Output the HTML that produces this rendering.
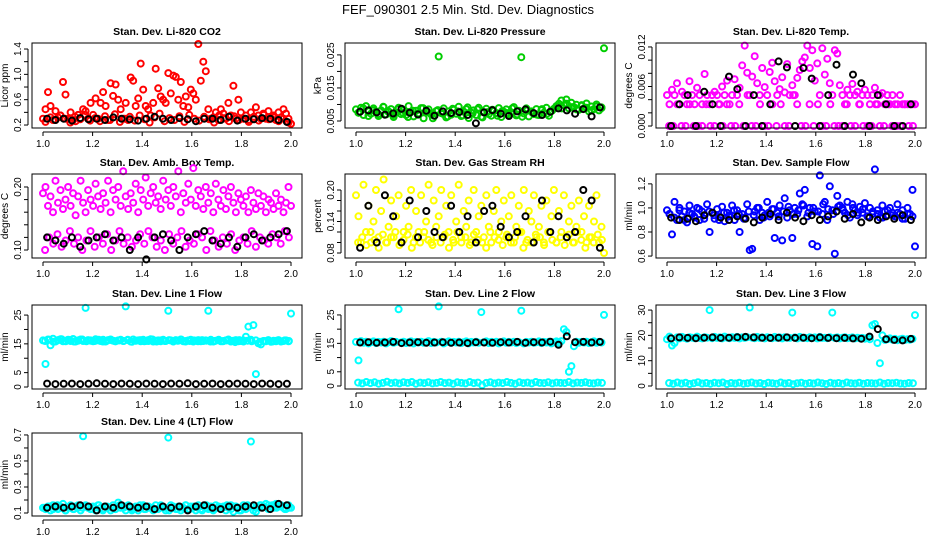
<!DOCTYPE html>
<html><head><meta charset="utf-8">
<style>
html,body{margin:0;padding:0;background:#fff;}
svg{display:block;font-family:"Liberation Sans",sans-serif;}
</style></head>
<body>
<svg id="chart" width="936" height="540" viewBox="0 0 936 540" xmlns="http://www.w3.org/2000/svg">
<text x="468" y="14" text-anchor="middle" font-size="13">FEF_090301  2.5 Min. Std. Dev. Diagnostics</text>
</svg>
<script>
const xTicks=[1.0,1.2,1.4,1.6,1.8,2.0];
const xTickLabels=["1.0","1.2","1.4","1.6","1.8","2.0"];

const co2Color=[0.3,0.45,0.72,0.5,0.28,0.42,0.32,0.35,0.88,0.68,0.3,0.4,0.28,0.26,0.36,0.3,0.45,0.42,0.3,0.55,0.36,0.62,0.3,0.55,0.72,0.5,0.28,0.86,0.66,0.84,0.6,0.45,0.3,0.55,0.28,0.95,0.9,0.5,0.62,1.17,0.76,0.5,0.45,0.35,0.55,1.09,0.78,0.65,0.6,0.55,1.02,0.7,0.98,0.96,0.6,0.88,0.5,0.65,0.48,0.76,0.7,0.6,1.48,0.9,1.2,1.05,0.45,0.3,0.32,0.4,0.28,0.45,0.38,0.3,0.55,0.35,0.82,0.3,0.6,0.4,0.3,0.35,0.28,0.4,0.3,0.48,0.35,0.3,0.38,0.3,0.42,0.3,0.35,0.28,0.4,0.32,0.45,0.38,0.3,0.22];
const co2Band=[0.25,0.32,0.28,0.35,0.3,0.24,0.33,0.29,0.36,0.27,0.31,0.26,0.34,0.28,0.37,0.25,0.3,0.33,0.27,0.35,0.29,0.24,0.32,0.38,0.26,0.31,0.28,0.34,0.25,0.36,0.3,0.27,0.33,0.29,0.24,0.35,0.31,0.26,0.34,0.28,0.3,0.25,0.33,0.27,0.36,0.29,0.32,0.26,0.3,0.24];
const co2Black=[0.3,0.28,0.3,0.27,0.31,0.29,0.3,0.28,0.32,0.3,0.29,0.27,0.3,0.33,0.3,0.28,0.31,0.29,0.26,0.3,0.3,0.28,0.33,0.27,0.3,0.29,0.31,0.3,0.28,0.25];

const presColor=[.0085,.0075,.009,.0068,.0095,.008,.0072,.0088,.0078,.0065,.0082,.0092,.007,.0079,.0086,.0062,.0075,.009,.0071,.0083,.0068,.0095,.0077,.0064,.0081,.0073,.0089,.0058,.0076,.0085,.007,.0066,.008,.0245,.0074,.0088,.0061,.0079,.0069,.0084,.0072,.0093,.0065,.0078,.0086,.0059,.0075,.0082,.0068,.009,.0063,.0077,.0087,.0071,.0066,.008,.0074,.0089,.0062,.0078,.0085,.007,.0076,.0092,.0067,.0081,.0243,.0073,.0088,.0064,.0079,.0071,.0086,.0068,.0083,.0075,.009,.0066,.008,.0087,.0095,.0102,.0112,.0098,.0115,.0088,.0105,.0092,.0099,.0084,.0096,.0088,.0103,.0079,.0094,.0086,.01,.0082,.0091,.027];
const presBand=[.0075,.0088,.0065,.0082,.0071,.0093,.0078,.0068,.0086,.0074,.0062,.0081,.0069,.0089,.0076,.0058,.0083,.0072,.0064,.0087,.0079,.0067,.0091,.0073,.0085,.0061,.0077,.0084,.0066,.008,.0074,.0088,.007,.0063,.0082,.0076,.0069,.0086,.0072,.0081,.0095,.0088,.0102,.0092,.0085,.0098,.009,.0082,.0094,.0089];
const presBlack=[.0078,.0082,.0076,.0069,.0073,.0087,.0075,.007,.0081,.0066,.0079,.0074,.0077,.0068,.0043,.0076,.0083,.0072,.0065,.0079,.0085,.0074,.0068,.0078,.0088,.0082,.0072,.0086,.0064,.0091];

const tempColor=[.0047,.0033,.0055,.0047,.0065,.0033,.0052,.0047,.0033,.0068,.0047,.0033,.0058,.0047,.0033,.0079,.0047,.0033,.0047,.0052,.0047,.0033,.006,.0047,.0069,.0033,.0047,.0071,.0047,.0058,.0092,.0122,.0081,.0047,.0075,.0106,.0065,.0047,.0088,.0059,.0047,.0082,.0096,.0068,.0047,.0056,.0074,.0051,.0094,.0047,.0062,.0047,.0073,.0085,.0098,.0104,.0122,.0088,.0115,.0069,.0095,.0047,.0118,.0078,.0102,.0065,.0047,.0115,.011,.0062,.0047,.0033,.0055,.0047,.0064,.0047,.0052,.0033,.0047,.0055,.0047,.0033,.0047,.0058,.0033,.0047,.005,.0033,.0047,.0033,.0047,.0033,.0033,.0047,.0033,.0033,.0033,.0033,.0033,.0033];
const tempBand=[0,0,.0033,0,0,.0033,0,0,0,.0033,0,0,.0033,0,.0033,0,0,.0033,0,.0047,0,0,.0033,0,0,.0033,0,.0033,0,0,.0047,.0033,0,0,.0033,0,.0033,0,0,.0033,0,0,0,.0033,0,0,.0033,0,0,0,.0033,0,0,.0033,0,0,0,.0033,0,0];
const tempBlack=[0,.0033,.0047,0,.0052,.0033,0,.0075,.0056,0,.0047,0,.0033,.0098,.0089,0,.0088,.0072,0,.0047,.0093,0,.0078,.0065,0,.0047,.0033,0,0,.0033];

const ambColor=[.19,.2,.17,.185,.16,.21,.175,.195,.165,.18,.2,.17,.19,.155,.185,.21,.175,.16,.195,.18,.17,.205,.185,.165,.19,.175,.21,.16,.195,.18,.2,.17,.225,.185,.165,.19,.175,.205,.16,.195,.18,.215,.17,.19,.2,.175,.185,.165,.21,.18,.195,.17,.2,.185,.225,.16,.19,.175,.205,.18,.23,.17,.195,.185,.165,.2,.175,.19,.16,.205,.18,.17,.195,.165,.185,.2,.175,.16,.19,.18,.17,.185,.16,.195,.175,.165,.19,.17,.185,.16,.18,.175,.165,.19,.17,.18,.16,.175,.2,.17];
const ambBand=[.1,.12,.11,.125,.105,.115,.13,.11,.12,.1,.115,.13,.105,.12,.11,.125,.1,.115,.13,.11,.12,.105,.115,.125,.11,.13,.12,.105,.115,.1,.125,.11,.12,.13,.105,.115,.11,.125,.12,.1,.13,.115,.105,.12,.11,.125,.1,.115,.12,.11,.13,.105,.12,.115,.11,.125,.12,.11,.13,.12];
const ambBlack=[.12,.115,.11,.12,.105,.115,.12,.125,.115,.12,.1,.12,.085,.12,.125,.115,.1,.12,.125,.13,.115,.11,.12,.105,.12,.125,.115,.12,.125,.13];

const rhColor=[.19,.15,.1,.21,.12,.17,.1,.14,.2,.11,.16,.22,.1,.13,.18,.11,.15,.19,.1,.12,.17,.13,.2,.1,.16,.12,.19,.11,.14,.21,.1,.18,.13,.15,.2,.11,.17,.12,.19,.1,.14,.21,.11,.16,.13,.18,.1,.2,.12,.15,.17,.11,.19,.13,.1,.16,.2,.12,.14,.18,.11,.15,.19,.1,.13,.17,.12,.2,.1,.16,.14,.19,.11,.13,.17,.1,.18,.12,.15,.2,.1,.16,.12,.19,.11,.14,.17,.1,.13,.18,.12,.15,.1,.17,.11,.14,.19,.1,.13,.08];
const rhBand=[.1,.11,.095,.12,.105,.09,.115,.1,.11,.12,.095,.105,.115,.09,.11,.1,.12,.105,.095,.11,.1,.115,.09,.105,.12,.1,.11,.095,.115,.105,.1,.09,.12,.11,.105,.095,.115,.1,.11,.12,.09,.105,.1,.115,.11,.095,.12,.105,.1,.11,.095,.115,.1,.12,.105,.09,.11,.1,.115,.105];
const rhBlack=[.09,.17,.1,.19,.15,.1,.18,.11,.16,.12,.11,.17,.12,.15,.1,.16,.17,.13,.11,.12,.15,.1,.18,.12,.15,.11,.12,.2,.18,.09];

const flowColor=[.98,.95,.78,1.05,.9,1.0,.93,.97,.88,1.02,.95,.92,1.0,.9,.97,.94,1.03,.8,.96,.91,.99,.93,1.01,.89,.96,.94,1.02,.9,.98,.8,.95,.92,1.03,.65,.66,.97,1.0,.9,.96,.94,1.05,.93,.99,.75,.96,1.02,.73,1.08,.92,.98,.75,1.0,.95,1.12,1.03,1.15,.93,1.0,.7,.97,.68,1.27,.95,1.05,.9,1.18,.98,.62,1.1,1.02,1.0,.96,1.05,.92,1.03,.98,.94,1.01,.96,1.04,.93,1.0,.95,1.32,.98,.92,1.02,.97,.94,1.0,.96,.93,1.03,.95,.98,.91,1.0,.95,1.15,.68];
const flowBand=[.95,.92,.98,.9,.96,.93,.99,.91,.97,.94,.9,.96,.93,.98,.95,.91,.97,.94,1.0,.92,.96,.99,.93,.97,1.01,.95,.98,1.02,.96,1.0,.97,1.03,.99,.95,1.01,.98,.94,1.0,.96,.99,.93,.97,.95,.92,.98,.94,.96,.91,.95,.93];
const flowBlack=[.92,.9,.91,.89,.94,.96,.92,.9,.93,.91,.88,.92,.95,.9,.96,.92,.89,.94,.9,.93,.97,.91,.95,.88,.92,.9,.93,.91,.94,.9];

const l1Color=[16.2,8,16.5,14.5,16.8,15.8,16.3,16.6,15.9,16.1,16.4,16.0,16.7,15.8,16.2,16.5,16.0,27.5,16.3,16.1,15.9,16.6,16.2,16.0,16.4,15.8,16.3,16.5,16.1,15.9,16.2,16.4,16.0,28,16.3,15.8,16.5,16.1,16.2,15.9,16.4,16.0,16.3,16.6,15.8,16.1,16.2,15.9,16.4,16.0,26.5,16.2,15.8,16.3,16.1,16.5,15.9,16.0,16.2,16.4,15.8,16.1,16.3,15.9,16.0,16.2,26.5,16.4,15.8,16.1,16.3,15.9,16.0,16.2,16.5,15.8,16.1,16.3,15.9,16.0,16.2,17.5,21,16.4,21.5,4.5,15.2,14.8,16.0,15.9,16.2,15.7,16.1,15.9,16.3,15.8,16.0,16.2,15.9,25.5];
const l1Band=[16.0,16.4,15.7,16.2,16.6,15.9,16.3,15.8,16.1,16.5,15.9,16.2,16.0,16.4,15.8,16.1,16.3,15.9,16.2,16.0,16.4,15.7,16.1,16.3,15.9,16.0,16.5,15.8,16.2,16.0,16.3,15.9,16.1,16.4,15.8,16.0,16.2,15.9,16.3,16.1,15.8,16.0,16.4,15.9,16.2,16.0,15.6,16.3,15.8,16.1,15.9,16.2,15.7,16.0,16.3,15.8,16.1,15.9,16.2,16.0];
const l1Black=[1.2,1.0,1.1,1.2,1.0,1.1,1.3,1.1,1.0,1.2,1.1,1.0,1.2,1.1,1.0,1.2,1.1,1.3,1.0,1.1,1.2,1.0,1.1,1.2,1.1,1.0,1.2,1.1,1.0,1.1];

const l2Color=[15.5,9,15.8,15.2,15.6,15.0,15.4,15.7,15.1,15.5,15.3,15.6,15.0,15.4,15.8,15.2,15.5,27,15.3,15.6,15.1,15.4,15.7,15.0,15.5,15.3,15.6,15.2,15.4,15.8,15.1,15.5,15.3,28,15.6,15.0,15.4,15.7,15.2,15.5,15.3,15.6,15.1,15.4,15.7,15.0,15.5,15.3,15.6,15.2,26,15.4,15.7,15.1,15.5,15.3,15.6,15.0,15.4,15.7,15.2,15.5,15.3,15.6,15.1,15.4,26.5,15.0,15.5,15.3,15.6,15.2,15.4,15.7,15.1,15.5,15.3,15.6,15.0,15.4,15.7,15.2,15.8,20,19,5,7,14,15.6,15.2,15.5,15.3,15.6,15.1,15.4,15.7,15.2,15.5,15.3,25];
const l2Band=[1.2,0.9,1.4,1.0,1.3,0.8,1.1,1.5,1.0,1.2,0.9,1.3,1.1,1.4,0.8,1.2,1.0,1.3,0.9,1.1,1.4,1.0,1.2,0.8,1.3,1.1,0.9,1.4,1.0,1.2,0.3,1.1,1.3,0.9,1.2,1.0,1.4,1.1,0.8,1.3,1.0,1.2,0.9,1.4,1.1,1.0,1.3,0.9,1.2,1.1,1.0,1.4,0.9,1.2,1.1,1.3,1.0,0.9,1.2,1.1];
const l2Black=[15.3,15.4,15.2,15.3,15.5,15.1,15.3,15.4,15.2,15.3,15.4,15.2,15.3,15.1,15.4,15.3,15.2,15.4,15.3,15.5,15.2,15.4,15.3,15.6,14.5,17.5,15.4,15.5,15.3,15.5];

const l3Color=[18.5,19.5,16,17,19.2,18.8,19.4,19.0,18.7,19.3,19.1,18.9,19.5,19.0,18.8,19.3,19.1,30,18.9,19.4,19.0,19.2,18.8,19.5,19.1,18.9,19.3,19.0,19.4,18.8,19.2,19.0,19.3,31,19.1,18.9,19.4,19.0,19.2,18.8,19.3,19.1,18.9,19.4,19.0,19.2,18.8,19.3,19.1,19.0,29,19.2,18.8,19.4,19.0,19.1,18.9,19.3,19.0,19.2,18.8,19.4,19.0,19.1,18.9,19.3,29,19.0,19.2,18.8,19.1,19.3,18.9,19.0,19.2,18.8,19.1,18.9,19.0,18.7,19.0,18.5,24,24.5,17,9,20,18.2,18.5,18.8,18.3,18.6,18.1,18.4,18.7,18.2,18.5,18.3,18.6,28];
const l3Band=[1.2,0.9,1.4,1.0,1.3,0.8,1.1,1.5,1.0,1.2,0.9,1.3,1.1,1.4,0.8,1.2,1.0,1.3,0.9,1.1,1.4,1.0,1.2,0.8,1.3,1.1,0.9,1.4,1.0,1.2,0.7,1.1,1.3,0.9,1.2,1.0,1.4,1.1,0.8,1.3,1.0,1.2,0.9,1.4,1.1,1.0,1.3,0.9,1.2,1.1,1.0,1.4,0.9,1.2,1.1,1.3,1.0,0.9,1.2,1.1];
const l3Black=[18.8,19.2,19.0,18.9,19.1,19.2,19.0,19.1,19.3,19.4,19.2,19.1,19.0,19.1,19.2,19.0,19.1,18.9,19.2,19.0,18.9,19.0,18.8,18.7,19.5,22.5,18.5,18.2,18.0,18.6];

const l4Color=[.14,.13,.15,.12,.16,.14,.13,.15,.17,.12,.14,.16,.13,.15,.14,.12,.69,.16,.14,.13,.15,.12,.16,.14,.13,.15,.14,.12,.16,.13,.18,.14,.15,.12,.16,.14,.13,.15,.12,.14,.16,.13,.15,.14,.12,.16,.13,.15,.14,.12,.68,.16,.14,.13,.15,.12,.14,.16,.13,.15,.14,.12,.16,.13,.15,.14,.13,.15,.12,.16,.14,.13,.15,.12,.14,.16,.11,.15,.14,.12,.16,.13,.15,.65,.12,.11,.14,.16,.15,.17,.16,.15,.14,.17,.15,.16,.14,.13,.16,.14];
const l4Band=[.14,.15,.13,.16,.14,.12,.15,.13,.16,.14,.15,.13,.14,.16,.12,.15,.14,.13,.16,.14,.15,.12,.14,.16,.13,.15,.14,.13,.16,.14,.12,.15,.13,.14,.16,.13,.15,.14,.12,.16,.14,.13,.15,.14,.16,.13,.15,.12,.14,.16,.15,.14,.16,.15,.13,.16,.14,.15,.13,.14];
const l4Black=[.14,.15,.14,.15,.16,.15,.12,.15,.14,.16,.15,.14,.15,.13,.15,.14,.15,.12,.15,.16,.14,.13,.15,.14,.15,.16,.14,.13,.17,.16];

const panels=[
 {name:"co2",title:"Stan. Dev. Li-820 CO2",ylab:"Licor ppm",col:0,row:0,color:"#ff0000",c:co2Color,b:co2Band,k:co2Black,dom:[0.153,1.495],ticks:[0.2,0.4,0.6,0.8,1.0,1.2,1.4],labels:["0.2","","0.6","","1.0","","1.4"]},
 {name:"pressure",title:"Stan. Dev. Li-820 Pressure",ylab:"kPa",col:1,row:0,color:"#00cd00",c:presColor,b:presBand,k:presBlack,dom:[0.00288,0.0286],ticks:[0.005,0.01,0.015,0.02,0.025],labels:["0.005","","0.015","","0.025"]},
 {name:"temp",title:"Stan. Dev. Li-820 Temp.",ylab:"degrees C",col:2,row:0,color:"#ff00ff",c:tempColor,b:tempBand,k:tempBlack,dom:[-0.0003,0.0126],ticks:[0,0.002,0.004,0.006,0.008,0.01,0.012],labels:["0.000","","","0.006","","","0.012"]},
 {name:"amb-box-temp",title:"Stan. Dev. Amb. Box Temp.",ylab:"degrees C",col:0,row:1,color:"#ff00ff",c:ambColor,b:ambBand,k:ambBlack,dom:[0.0873,0.2206],ticks:[0.1,0.12,0.14,0.16,0.18,0.2],labels:["0.10","","","","","0.20"]},
 {name:"gas-rh",title:"Stan. Dev. Gas Stream RH",ylab:"percent",col:1,row:1,color:"#ffff00",c:rhColor,b:rhBand,k:rhBlack,dom:[0.0705,0.2305],ticks:[0.08,0.1,0.12,0.14,0.16,0.18,0.2],labels:["0.08","","","0.14","","","0.20"]},
 {name:"sample-flow",title:"Stan. Dev. Sample Flow",ylab:"ml/min",col:2,row:1,color:"#0000ff",c:flowColor,b:flowBand,k:flowBlack,dom:[0.584,1.282],ticks:[0.6,0.8,1.0,1.2],labels:["0.6","0.8","1.0","1.2"]},
 {name:"line1-flow",title:"Stan. Dev. Line 1 Flow",ylab:"ml/min",col:0,row:2,color:"#00ffff",c:l1Color,b:l1Band,k:l1Black,dom:[-0.69,28.5],ticks:[0,5,10,15,20,25],labels:["0","5","","15","","25"]},
 {name:"line2-flow",title:"Stan. Dev. Line 2 Flow",ylab:"ml/min",col:1,row:2,color:"#00ffff",c:l2Color,b:l2Band,k:l2Black,dom:[-1.06,28.5],ticks:[0,5,10,15,20,25],labels:["0","5","","15","","25"]},
 {name:"line3-flow",title:"Stan. Dev. Line 3 Flow",ylab:"ml/min",col:2,row:2,color:"#00ffff",c:l3Color,b:l3Band,k:l3Black,dom:[-1.18,32],ticks:[0,5,10,15,20,25,30],labels:["0","","10","","20","","30"]},
 {name:"line4-flow",title:"Stan. Dev. Line 4 (LT) Flow",ylab:"ml/min",col:0,row:3,color:"#00ffff",c:l4Color,b:l4Band,k:l4Black,dom:[0.077,0.715],ticks:[0.1,0.2,0.3,0.4,0.5,0.6,0.7],labels:["0.1","","0.3","","0.5","","0.7"]}
];

const NS="http://www.w3.org/2000/svg";
const svg=document.getElementById("chart");
const colX1=[43,356,667];
const rowTop=[43,174,305,433];
const rowBot=[128,258,389,516];
function mk(tag,attrs,parent){const e=document.createElementNS(NS,tag);for(const k in attrs)e.setAttribute(k,attrs[k]);parent.appendChild(e);return e;}

panels.forEach(p=>{
  const x1=colX1[p.col], L=x1-11, R=x1+259, T=rowTop[p.row], B=rowBot[p.row];
  const xs=v=>x1+(v-1)*248;
  const ys=v=>B-(v-p.dom[0])/(p.dom[1]-p.dom[0])*(B-T);
  const g=mk("g",{},svg);
  
  
  const t=mk("text",{x:(L+R)/2,y:T-8,"text-anchor":"middle","font-size":"10.5","font-weight":"bold"},g);
  t.textContent=p.title;
  
  
  const pts=mk("g",{fill:"none","stroke-width":"2"},g);
  
  
  const draw=(arr,color,off,series)=>{arr.forEach((v,i)=>{
    const n=arr.length; const xv=1+(off?(i+0.5)/n:i/(n-1));
    const c=mk("circle",{cx:xs(xv).toFixed(1),cy:ys(v).toFixed(1),r:"3",stroke:color},pts);
    
    
  });};
  draw(p.b,p.color,true,'band');
  draw(p.c,p.color,false,'color');
  draw(p.k,"#000",true,'black');
  const box=mk("rect",{x:L,y:T,width:R-L,height:B-T,fill:"none",stroke:"#000","stroke-width":"1"},g);
  
  
  const xa=mk("g",{},g);
  
  
  mk("line",{x1:xs(1),x2:xs(2),y1:B+4,y2:B+4,stroke:"#000"},xa);
  xTicks.forEach((v,i)=>{
    mk("line",{x1:xs(v),x2:xs(v),y1:B+4,y2:B+8,stroke:"#000"},xa);
    const lt=mk("text",{x:xs(v),y:B+19,"text-anchor":"middle","font-size":"10"},xa);
    lt.textContent=xTickLabels[i];
    
    
  });
  const ya=mk("g",{},g);
  
  
  mk("line",{x1:L-4,x2:L-4,y1:ys(p.ticks[0]),y2:ys(p.ticks[p.ticks.length-1]),stroke:"#000"},ya);
  p.ticks.forEach((v,i)=>{
    const y=ys(v);
    mk("line",{x1:L-8,x2:L-4,y1:y,y2:y,stroke:"#000"},ya);
    if(p.labels[i]){
      const lt=mk("text",{x:L-11,y:y,"text-anchor":"middle","font-size":"10",transform:`rotate(-90 ${L-11} ${y})`},ya);
      lt.textContent=p.labels[i];
      
      
    }
  });
  const yl=mk("text",{x:L-24,y:(T+B)/2,"text-anchor":"middle","font-size":"10",transform:`rotate(-90 ${L-24} ${(T+B)/2})`},ya);
  yl.textContent=p.ylab;
  
  
});
</script>
</body></html>
